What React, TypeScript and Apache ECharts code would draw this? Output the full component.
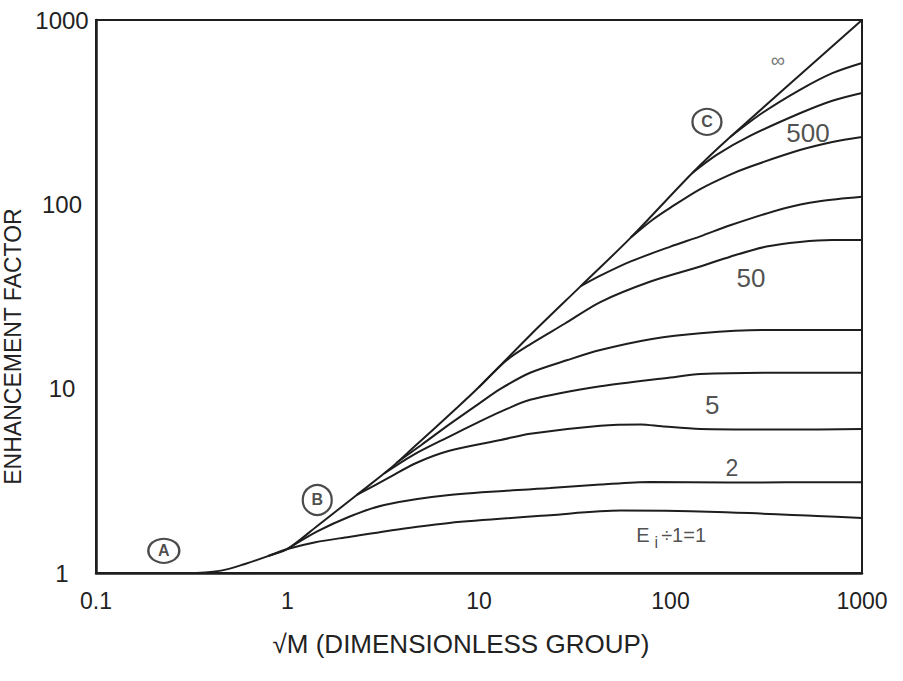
import React, { useEffect, useRef } from "react";
import * as echarts from "echarts";

// ---- data (x = sqrt(M), y = enhancement factor) ----
const curveInf = [[0.1, 1], [0.2, 1], [0.3, 1], [0.45, 1.03], [0.6, 1.12], [0.8, 1.24], [1, 1.35], [1.43, 1.8], [2.3, 2.65], [3.4, 3.65], [4.5, 4.75], [7.7, 7.9], [10, 10.2], [18.5, 19.5], [34, 36], [62, 66], [130, 148], [205, 232], [1000, 1000]];
const curveA = [[205, 232], [300, 312], [474, 418], [700, 515], [1000, 585]];
const curveB = [[130, 148], [175, 186], [260, 235], [474, 312], [700, 365], [1000, 402]];
const curveC = [[62, 66], [80, 82], [100, 96], [143, 121], [205, 145], [260, 160], [474, 197], [700, 218], [1000, 232]];
const curveD = [[34, 36], [43, 41], [62, 49], [100, 59], [143, 67], [205, 77], [390, 95], [600, 104], [1000, 110]];
const curve50 = [[10, 10.2], [14, 14.3], [18.5, 17.4], [28, 22.5], [43, 29.5], [78, 38], [143, 46], [205, 52], [317, 59], [474, 62.5], [700, 64], [1000, 64]];
const curve20 = [[3.7, 3.95], [5, 4.95], [7, 6.4], [10, 8.3], [13, 10.0], [18.5, 12.2], [29, 14.3], [43, 16.2], [80, 18.6], [143, 20], [300, 20.8], [1000, 20.8]];
const curve10 = [[3.2, 3.47], [4.5, 4.35], [7, 5.5], [10, 6.6], [13, 7.5], [18.5, 8.7], [43, 10.3], [100, 11.5], [143, 12.0], [400, 12.2], [1000, 12.2]];
const curve5 = [[2.3, 2.65], [3.4, 3.3], [4.7, 3.95], [7, 4.6], [13, 5.27], [18.5, 5.7], [43, 6.3], [70, 6.4], [90, 6.25], [143, 6.04], [400, 6.0], [1000, 6.04]];
const curve2 = [[1, 1.35], [1.43, 1.68], [2.1, 2.02], [3.2, 2.34], [7, 2.65], [23.5, 2.89], [43, 3.02], [78, 3.12], [200, 3.1], [1000, 3.11]];
const curve1 = [[0.8, 1.24], [1, 1.35], [1.4, 1.47], [2.1, 1.57], [4, 1.74], [7, 1.87], [23.5, 2.06], [55, 2.18], [175, 2.14], [580, 2.04], [1000, 1.99]];

const curves = [curveInf, curveA, curveB, curveC, curveD, curve50, curve20, curve10, curve5, curve2, curve1];

// curve labels
const curveLabels = [
  { value: [364, 607], text: "∞", size: 20, color: "#555" },
  { value: [522, 244], text: "500", size: 26, color: "#222" },
  { value: [263, 40], text: "50", size: 26, color: "#222" },
  { value: [165, 8.2], text: "5", size: 26, color: "#222" },
  { value: [209, 3.7], text: "2", size: 23, color: "#222" },
];
const eiLabel = [102, 1.6];
// circled regime markers
const markers = [
  { value: [0.226, 1.32], text: "A", size: [31, 24] },
  { value: [1.43, 2.49], text: "B", size: [29, 30] },
  { value: [155, 280], text: "C", size: [29, 26] },
];

const FONT = "Liberation Sans";
const INK = "#1e1e1e";

export default function App() {
  const ref = useRef<HTMLDivElement>(null);
  useEffect(() => {
    if (!ref.current) return;
    const chart = echarts.init(ref.current, null, { renderer: "svg" });
    const lineSeries = curves.map((c) => ({
      type: "line",
      data: c,
      smooth: 0.3,
      symbol: "none",
      lineStyle: { color: INK, width: 2 },
      silent: true,
      z: 2,
    }));
    chart.setOption({
      animation: false,
      backgroundColor: "#fff",
      textStyle: { fontFamily: FONT },
      grid: {
        left: 96,
        right: 41,
        top: 20,
        bottom: 108,
        containLabel: false,
        outerBoundsMode: "none",
        show: true,
        borderColor: INK,
        borderWidth: 2,
        backgroundColor: "transparent",
      },
      xAxis: {
        type: "log",
        logBase: 10,
        min: 0.1,
        max: 1000,
        name: "√M (DIMENSIONLESS GROUP)",
        nameLocation: "middle",
        nameGap: 58,
        nameTextStyle: { fontSize: 26, color: "#222", fontFamily: FONT, padding: [0, 36, 0, 0] },
        axisLine: { lineStyle: { color: INK, width: 2.5 } },
        axisTick: { show: false },
        splitLine: { show: false },
        minorTick: { show: false },
        axisLabel: {
          fontSize: 23,
          color: "#222",
          margin: 16,
          formatter: (v: number) => (v < 1 ? "0.1" : String(Math.round(v))),
        },
      },
      yAxis: {
        type: "log",
        logBase: 10,
        min: 1,
        max: 1000,
        name: "ENHANCEMENT FACTOR",
        nameLocation: "middle",
        nameRotate: 90,
        nameGap: 66,
        nameTextStyle: { fontSize: 23, color: "#222", fontFamily: FONT, padding: [0, 100, 0, 0] },
        axisLine: { lineStyle: { color: INK, width: 2.5 } },
        axisTick: { show: false },
        splitLine: { show: false },
        axisLabel: {
          fontSize: 24,
          color: "#222",
          align: "center",
          margin: 34,
          formatter: (v: number) => String(Math.round(v)),
        },
      },
      series: [
        ...lineSeries,
        {
          type: "scatter",
          silent: true,
          symbolSize: 1,
          itemStyle: { color: "rgba(0,0,0,0)" },
          z: 5,
          data: curveLabels.map((l) => ({
            value: l.value,
            label: {
              show: true,
              position: "inside",
              formatter: l.text,
              fontSize: l.size,
              color: l.color,
              fontFamily: FONT,
            },
          })),
        },
        {
          type: "scatter",
          silent: true,
          symbolSize: 1,
          itemStyle: { color: "rgba(0,0,0,0)" },
          z: 5,
          data: [
            {
              value: eiLabel,
              label: {
                show: true,
                position: "inside",
                formatter: "{e|E}{s|i}{e|÷1=1}",
                rich: {
                  e: { fontSize: 20, color: "#222", fontFamily: FONT, padding: [0, 2, 0, 0] },
                  s: { fontSize: 16, color: "#222", fontFamily: FONT, padding: [14, 3, 0, 3] },
                },
              },
            },
          ],
        },
        {
          type: "scatter",
          silent: true,
          symbol: "circle",
          z: 5,
          itemStyle: { color: "rgba(255,255,255,0)", borderColor: INK, borderWidth: 2.2 },
          data: markers.map((m) => ({
            value: m.value,
            symbolSize: m.size,
            label: {
              show: true,
              position: "inside",
              formatter: m.text,
              fontSize: 16,
              fontWeight: "bold",
              color: INK,
              fontFamily: FONT,
            },
          })),
        },
      ],
    });
    return () => chart.dispose();
  }, []);
  return (
    <div
      ref={ref}
      style={{ position: "fixed", left: 0, top: 0, width: 903, height: 681, background: "#fff" }}
    />
  );
}
